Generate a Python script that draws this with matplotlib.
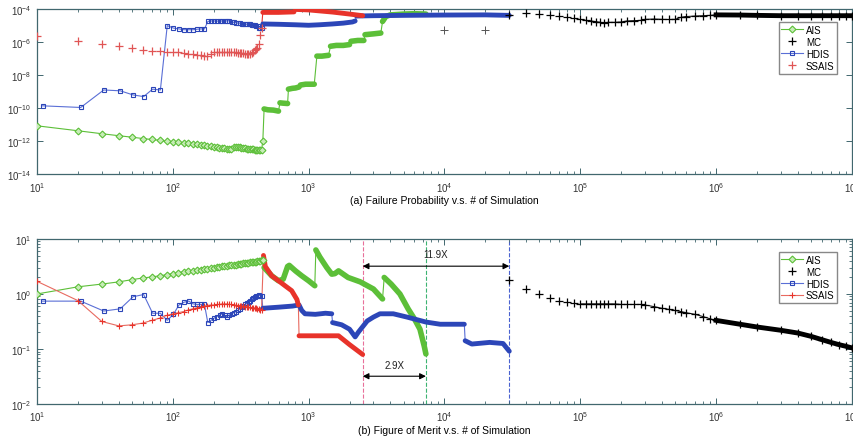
import matplotlib
matplotlib.use("Agg")
import matplotlib.pyplot as plt
import numpy as np
from matplotlib.ticker import LogLocator, NullFormatter

plt.rcParams['font.family'] = ['Liberation Sans', 'DejaVu Sans']
plt.rcParams['mathtext.fontset'] = 'custom'
plt.rcParams['mathtext.rm'] = 'Liberation Sans'
plt.rcParams['mathtext.it'] = 'Liberation Sans:italic'
plt.rcParams['font.size'] = 7

# ---------------- data (log10 of the plotted values) ----------------
# sample counts for the early, marker-by-marker part of the runs
ais_x = np.arange(10, 470, 10)          # 10 .. 460
hdis_x = np.arange(11, 461, 10)         # 11 .. 451
ssais_x = np.arange(10, 460, 10)        # 10 .. 450

# (a) failure probability
ais_pf = [-11.07, -11.37, -11.55, -11.67, -11.76, -11.84, -11.90, -11.95, -12.00, -12.04,
          -12.07, -12.10, -12.13, -12.16, -12.19, -12.22, -12.25, -12.28, -12.31, -12.34,
          -12.37, -12.39, -12.41, -12.43, -12.45, -12.47, -12.48, -12.33, -12.34, -12.36,
          -12.38, -12.40, -12.42, -12.43, -12.45, -12.46, -12.48, -12.49, -12.50, -12.51,
          -12.52, -12.53, -12.54, -12.55, -12.55, -11.98]
hdis_pf = [-9.86, -9.96, -8.90, -8.95, -9.20, -9.30, -8.85, -8.90, -5.00, -5.15,
           -5.20, -5.25, -5.25, -5.25, -5.22, -5.20, -5.20, -4.75, -4.72, -4.72,
           -4.73, -4.72, -4.72, -4.70, -4.72, -4.70, -4.80, -4.80, -4.82, -4.85,
           -4.85, -4.88, -4.88, -4.90, -4.92, -4.93, -4.93, -4.95, -4.95, -4.98,
           -5.00, -5.05, -5.15, -5.15, -5.12]
ssais_pf = [-5.60, -5.96, -6.10, -6.24, -6.35, -6.45, -6.52, -6.55, -6.58, -6.60,
            -6.62, -6.65, -6.70, -6.75, -6.78, -6.80, -6.82, -6.85, -6.75, -6.62,
            -6.60, -6.60, -6.60, -6.60, -6.60, -6.60, -6.60, -6.62, -6.62, -6.65,
            -6.65, -6.65, -6.68, -6.70, -6.70, -6.70, -6.70, -6.68, -6.60, -6.50,
            -6.40, -6.35, -6.10, -5.55, -5.15]

# later parts, where the markers pile up into a band (split at the jumps)
ais_pf_band = [
    [(470, -10.05), (500, -10.10), (550, -10.12), (600, -10.18)],
    [(615, -9.68), (650, -9.70), (700, -9.72)],
    [(710, -8.85), (760, -8.80), (800, -8.78), (850, -8.72)],
    [(870, -8.60), (950, -8.55), (1000, -8.55), (1100, -8.55)],
    [(1150, -6.85), (1250, -6.85), (1400, -6.80)],
    [(1450, -6.25), (1600, -6.20), (1800, -6.20), (2000, -6.15)],
    [(2050, -5.95), (2300, -5.90), (2550, -5.90)],
    [(2600, -5.55), (3000, -5.50), (3400, -5.45)],
    [(3500, -4.75), (3700, -4.45), (4000, -4.35), (5000, -4.30), (6000, -4.28), (7300, -4.30)],
]
hdis_pf_band = [
    [(460, -4.90), (600, -4.92), (800, -4.95), (1000, -4.98), (1200, -4.95), (1500, -4.90),
     (1800, -4.85), (2100, -4.78), (2200, -4.72)],
    [(2250, -4.42), (3000, -4.40), (5000, -4.38), (10000, -4.36), (20000, -4.35), (30000, -4.38)],
]
ssais_pf_band = [
    [(460, -4.20), (600, -4.20), (780, -4.17)],
    [(800, -4.02), (1000, -4.05), (1500, -4.18), (2000, -4.30), (2500, -4.40)],
]

# (b) figure of merit
ais_fom = [0.00, 0.13, 0.18, 0.22, 0.26, 0.29, 0.31, 0.33, 0.35, 0.37,
           0.39, 0.40, 0.41, 0.42, 0.43, 0.44, 0.45, 0.46, 0.47, 0.48,
           0.49, 0.495, 0.50, 0.51, 0.515, 0.52, 0.525, 0.53, 0.535, 0.54,
           0.545, 0.55, 0.555, 0.56, 0.565, 0.57, 0.575, 0.58, 0.585, 0.59,
           0.59, 0.595, 0.60, 0.60, 0.61, 0.62]
hdis_fom = [-0.13, -0.13, -0.31, -0.27, -0.05, -0.01, -0.35, -0.35, -0.48, -0.37,
            -0.20, -0.15, -0.13, -0.18, -0.19, -0.19, -0.19, -0.52, -0.48, -0.44,
            -0.41, -0.38, -0.36, -0.39, -0.41, -0.38, -0.36, -0.34, -0.32, -0.30,
            -0.27, -0.23, -0.21, -0.19, -0.17, -0.14, -0.12, -0.09, -0.07, -0.05,
            -0.03, -0.03, -0.02, -0.03, -0.03]
ssais_fom = [0.23, -0.12, -0.50, -0.58, -0.56, -0.53, -0.48, -0.44, -0.39, -0.36,
             -0.34, -0.32, -0.29, -0.27, -0.25, -0.24, -0.22, -0.21, -0.20, -0.20,
             -0.19, -0.19, -0.18, -0.18, -0.18, -0.19, -0.19, -0.20, -0.20, -0.21,
             -0.21, -0.22, -0.22, -0.23, -0.23, -0.24, -0.24, -0.25, -0.25, -0.25,
             -0.26, -0.27, -0.28, -0.29, -0.29]

ais_fom_band = [
    [(470, 0.48), (535, 0.33), (600, 0.24), (650, 0.27), (700, 0.50), (720, 0.52), (800, 0.42),
     (890, 0.33), (1000, 0.24), (1110, 0.15)],
    [(1130, 0.80), (1210, 0.67), (1360, 0.48), (1480, 0.36), (1560, 0.37), (1660, 0.42),
     (1950, 0.30), (2400, 0.22), (3000, 0.09), (3500, -0.09)],
    [(3600, 0.30), (4050, 0.18), (4700, 0.00), (5400, -0.27), (6000, -0.45), (6600, -0.64),
     (7100, -0.95), (7300, -1.09)],
]
hdis_fom_band = [
    [(460, -0.26), (600, -0.24), (760, -0.22), (850, -0.20), (890, -0.30), (940, -0.36),
     (1120, -0.37), (1330, -0.35), (1480, -0.36)],
    [(1500, -0.52), (1750, -0.56), (2000, -0.64), (2200, -0.78), (2330, -0.69), (2700, -0.49),
     (3000, -0.42), (3350, -0.36), (4200, -0.36), (5300, -0.42), (7300, -0.51), (9300, -0.55),
     (14000, -0.55)],
    [(14200, -0.85), (15900, -0.91), (21500, -0.88), (27000, -0.90), (30000, -1.04)],
]
ssais_fom_band = [
    [(465, 0.70), (480, 0.50), (535, 0.33), (600, 0.24), (670, 0.15), (750, 0.06), (820, -0.10),
     (840, -0.20)],
    [(850, -0.76), (1000, -0.76), (1300, -0.76), (1660, -0.76), (2000, -0.92), (2500, -1.10)],
]

# Monte Carlo
mc_x = [3e4, 4e4, 5e4, 6e4, 7e4, 8e4, 9e4, 1e5, 1.1e5, 1.2e5, 1.3e5, 1.4e5, 1.5e5, 1.6e5,
        1.8e5, 2e5, 2.2e5, 2.5e5, 2.8e5, 3e5, 3.5e5, 4e5, 4.5e5, 5e5, 5.5e5, 6e5, 7e5, 8e5,
        9e5, 1e6, 1.5e6, 2e6, 3e6, 4e6, 5e6, 6e6, 7e6, 8e6, 9e6, 1e7]
mc_pf = [-4.35, -4.24, -4.30, -4.36, -4.42, -4.48, -4.55, -4.62, -4.68, -4.72, -4.76, -4.80,
         -4.83, -4.80, -4.80, -4.78, -4.72, -4.70, -4.68, -4.62, -4.60, -4.62, -4.63, -4.62,
         -4.50, -4.45, -4.42, -4.40, -4.38, -4.35, -4.36, -4.38, -4.40, -4.40, -4.40, -4.40,
         -4.40, -4.40, -4.40, -4.40]
mc_early_x = [1e4, 2e4]
mc_early_pf = [-5.25, -5.25]
mc_fom = [0.25, 0.09, 0.00, -0.07, -0.12, -0.14, -0.16, -0.18, -0.18, -0.18, -0.18, -0.18,
          -0.18, -0.18, -0.18, -0.19, -0.19, -0.19, -0.19, -0.20, -0.23, -0.26, -0.28, -0.30,
          -0.32, -0.34, -0.37, -0.41, -0.45, -0.48, -0.55, -0.60, -0.66, -0.71, -0.77, -0.83,
          -0.88, -0.92, -0.95, -0.98]

# end points of the runs and speed-up labels
ssais_end, ais_end, hdis_end = 2500, 7300, 30000
speedups = ["11.9X", "2.9X"]

# ---------------- styles ----------------
c_ais = '#5cbf38'
c_hdis = '#2c46b8'
c_hdis_thin = '#5a6fd6'
c_ssais = '#e8332a'
c_mc = 'black'
c_axis = '#41676e'


def band(ax, segs, sparse_x, sparse_y, color, thin_color, lw):
    # thin line through everything, thick line along each piece
    allx = list(sparse_x[-1:]) + [p[0] for s in segs for p in s]
    ally = list(sparse_y[-1:]) + [p[1] for s in segs for p in s]
    ax.plot(allx, 10.0 ** np.array(ally), color=thin_color, lw=0.8, zorder=2)
    for s in segs:
        ax.plot([p[0] for p in s], 10.0 ** np.array([p[1] for p in s]), color=color, lw=lw,
                solid_capstyle='round', solid_joinstyle='round', zorder=3)


def style_axes(ax, ylim, ymajor):
    ax.set_xscale('log')
    ax.set_yscale('log')
    ax.set_xlim(10, 1e7)
    ax.set_ylim(*ylim)
    ax.set_yticks(ymajor)
    ax.xaxis.set_minor_locator(LogLocator(base=10, subs=np.arange(2, 10), numticks=20))
    ax.xaxis.set_minor_formatter(NullFormatter())
    ax.tick_params(which='both', direction='in', top=True, right=True, color=c_axis,
                   labelcolor='#333333', labelsize=7, pad=4)
    ax.tick_params(which='major', length=4, width=0.7)
    ax.tick_params(which='minor', length=2.5, width=0.6)
    for sp in ax.spines.values():
        sp.set_color(c_axis)
        sp.set_linewidth(0.9)


fig = plt.figure(figsize=(8.54, 4.39), dpi=100)
ax1 = fig.add_axes([0.0433, 0.601, 0.9543, 0.376])
ax2 = fig.add_axes([0.0433, 0.0774, 0.9543, 0.376])

# ---------------- (a) ----------------
band(ax1, ais_pf_band, ais_x, ais_pf, c_ais, c_ais, 4.0)
band(ax1, hdis_pf_band, hdis_x, hdis_pf, c_hdis, c_hdis_thin, 3.5)
band(ax1, ssais_pf_band, ssais_x, ssais_pf, c_ssais, c_ssais, 3.5)

h_ais, = ax1.plot(ais_x, 10.0 ** np.array(ais_pf), color=c_ais, lw=0.8, marker='D', ms=3.5,
                  mfc='#c8ecb8', mec=c_ais, mew=0.8, label='AIS', zorder=4)
h_hdis, = ax1.plot(hdis_x, 10.0 ** np.array(hdis_pf), color=c_hdis_thin, lw=0.8, marker='s',
                   ms=3.5, mfc='none', mec=c_hdis, mew=0.8, label='HDIS', zorder=4)
h_ssais, = ax1.plot(ssais_x, 10.0 ** np.array(ssais_pf), ls='none', marker='+', ms=6,
                    mec='#e05555', mew=0.9, label='SSAIS', zorder=4)
ax1.plot(mc_early_x, 10.0 ** np.array(mc_early_pf), ls='none', marker='+', ms=6, mec='#555555',
         mew=0.7, zorder=4)
h_mc, = ax1.plot(mc_x, 10.0 ** np.array(mc_pf), ls='none', marker='+', ms=6, mec=c_mc, mew=0.9,
                 label='MC', zorder=4)
ax1.plot(mc_x[7:], 10.0 ** np.array(mc_pf[7:]), color=c_mc, lw=0.7, zorder=3)
ax1.plot(mc_x[29:], 10.0 ** np.array(mc_pf[29:]), color=c_mc, lw=3.5, zorder=3)

style_axes(ax1, (1e-14, 1e-4), [1e-14, 1e-12, 1e-10, 1e-8, 1e-6, 1e-4])
ax1.set_xlabel('(a) Failure Probability v.s. # of Simulation', fontsize=7.5, labelpad=1)
ax1.legend([h_ais, h_mc, h_hdis, h_ssais], ['AIS', 'MC', 'HDIS', 'SSAIS'], loc='upper right',
           bbox_to_anchor=(0.988, 0.952), fontsize=7, fancybox=False, edgecolor='#888888',
           framealpha=1, handlelength=2.2, borderpad=0.3, labelspacing=0.2, handletextpad=0.3)

# ---------------- (b) ----------------
band(ax2, ais_fom_band, ais_x, ais_fom, c_ais, c_ais, 4.0)
band(ax2, hdis_fom_band, hdis_x, hdis_fom, c_hdis, c_hdis_thin, 3.5)
band(ax2, ssais_fom_band, ssais_x, ssais_fom, c_ssais, '#e86a60', 3.5)

g_ais, = ax2.plot(ais_x, 10.0 ** np.array(ais_fom), color=c_ais, lw=0.8, marker='D', ms=3.5,
                  mfc='#c8ecb8', mec=c_ais, mew=0.8, label='AIS', zorder=4)
g_hdis, = ax2.plot(hdis_x, 10.0 ** np.array(hdis_fom), color=c_hdis_thin, lw=0.8, marker='s',
                   ms=3.5, mfc='none', mec=c_hdis, mew=0.8, label='HDIS', zorder=4)
g_ssais, = ax2.plot(ssais_x, 10.0 ** np.array(ssais_fom), color='#e86a60', lw=0.8, marker='+',
                    ms=4.5, mec=c_ssais, mew=0.8, label='SSAIS', zorder=4)
g_mc, = ax2.plot(mc_x, 10.0 ** np.array(mc_fom), ls='none', marker='+', ms=6, mec=c_mc, mew=0.9,
                 label='MC', zorder=4)
ax2.plot(mc_x[7:], 10.0 ** np.array(mc_fom[7:]), color=c_mc, lw=0.7, zorder=3)
ax2.plot(mc_x[29:], 10.0 ** np.array(mc_fom[29:]), color=c_mc, lw=3.5, zorder=3)

# end-of-run markers
ax2.axvline(ssais_end, color='#e8709a', ls='--', lw=0.8, zorder=1)
ax2.axvline(ais_end, color='#3cb371', ls='--', lw=0.8, zorder=1)
ax2.axvline(hdis_end, color='#4a62d0', ls='--', lw=0.8, zorder=1)

arrow = dict(arrowstyle='<|-|>', color='black', lw=0.8, mutation_scale=9, shrinkA=0, shrinkB=0)
ax2.annotate('', xy=(ssais_end, 3.2), xytext=(hdis_end, 3.2), arrowprops=arrow)
ax2.text(np.sqrt(ssais_end * hdis_end), 4.3, speedups[0], ha='center', va='bottom', fontsize=7,
         color='#222222')
ax2.annotate('', xy=(ssais_end, 0.032), xytext=(ais_end, 0.032), arrowprops=arrow)
ax2.text(np.sqrt(ssais_end * ais_end), 0.042, speedups[1], ha='center', va='bottom', fontsize=7,
         color='#222222')

style_axes(ax2, (1e-2, 1e1), [1e-2, 1e-1, 1e0, 1e1])
ax2.yaxis.set_minor_locator(LogLocator(base=10, subs=np.arange(2, 10), numticks=20))
ax2.yaxis.set_minor_formatter(NullFormatter())
ax2.set_xlabel('(b) Figure of Merit v.s. # of Simulation', fontsize=7.5, labelpad=1)
ax2.legend([g_ais, g_mc, g_hdis, g_ssais], ['AIS', 'MC', 'HDIS', 'SSAIS'], loc='upper right',
           bbox_to_anchor=(0.988, 0.952), fontsize=7, fancybox=False, edgecolor='#888888',
           framealpha=1, handlelength=2.2, borderpad=0.3, labelspacing=0.2, handletextpad=0.3)

fig.savefig('out.png', dpi=100)
